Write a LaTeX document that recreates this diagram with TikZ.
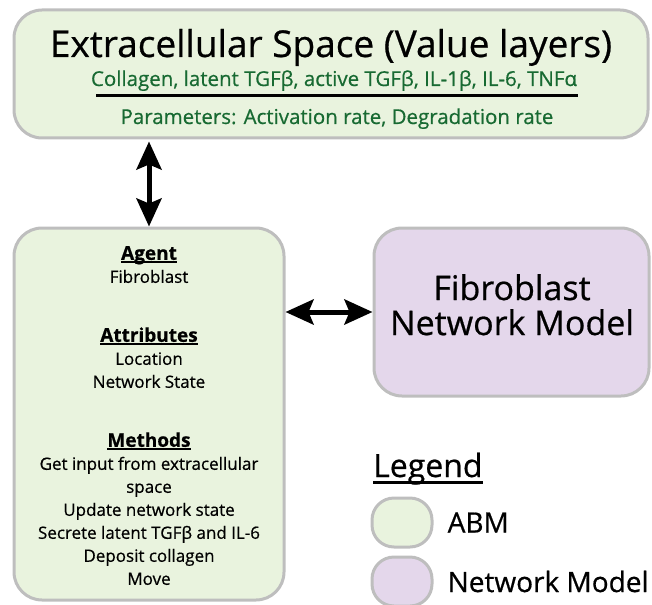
\documentclass[tikz,border=0pt]{standalone}
\usepackage{fontspec}
\setmainfont{Open Sans}[FakeBold=0.6]
\usetikzlibrary{arrows.meta,positioning}

\definecolor{abmgreen}{RGB}{233,243,222}
\definecolor{netpurple}{RGB}{228,215,235}
\definecolor{boxgray}{RGB}{190,190,190}
\definecolor{textgreen}{RGB}{24,106,50}

\newsavebox{\ulbox}
\newcommand{\uline}[3]{\sbox{\ulbox}{#3}\rlap{\usebox{\ulbox}}\rule[-#1]{\wd\ulbox}{#2}}
\newcommand{\ulhead}[1]{{\fontsize{19}{23}\selectfont\bfseries\uline{3pt}{1.5pt}{#1}}}

\begin{document}
\begin{tikzpicture}[
	x=1pt, y=-1pt,
	abmbox/.style={shape=rectangle, draw=boxgray, line width=3pt, fill=abmgreen, rounded corners=28pt, inner sep=0pt},
	netbox/.style={abmbox, fill=netpurple},
	keybox/.style={abmbox, rounded corners=22pt, minimum width=60pt, minimum height=49pt},
	twoway/.style={line width=5pt, {Stealth[length=28pt,width=25pt,inset=5pt]}-{Stealth[length=28pt,width=25pt,inset=5pt]}},
]
\useasboundingbox (0,0) rectangle (652,604);
\clip (0,0) rectangle (652,604);

% boxes
\node[abmbox, minimum width=634pt, minimum height=128pt] (ecs) at (331,74) {};
\node[abmbox, minimum width=270pt, minimum height=372pt] (abm) at (149,414) {};
\node[netbox, minimum width=275pt, minimum height=168pt] (fnm) at (511.5,312) {};

% extracellular space
\node[anchor=base, font=\fontsize{37}{44}\selectfont] (title) at (331,57) {Extracellular Space (Value layers)};
\node[anchor=base, text=textgreen, font=\fontsize{20.5}{24}\selectfont] (layers) at (334,86) {Collagen, latent TGFβ, active TGFβ, IL-1β, IL-6, TNFα};
\draw[line width=3pt] (96,96) -- (578,96);
\node[anchor=base, text=textgreen, font=\fontsize{20.5}{24}\selectfont] (params) at (337,124) {Parameters: Activation rate, Degradation rate};

% agent
\node[anchor=north, inner sep=0pt, align=center, font=\fontsize{17}{23}\selectfont] (agent) at (149,246) {
	\ulhead{Agent}\\
	Fibroblast\\[36pt]
	\ulhead{Attributes}\\
	Location\\
	Network State\\[36pt]
	\ulhead{Methods}\\
	Get input from extracellular\\
	space\\
	Update network state\\
	Secrete latent TGFβ and IL-6\\
	Deposit collagen\\
	Move
};

% network model
\node[anchor=north, inner sep=0pt, align=center, font=\fontsize{34}{35}\selectfont] (fnmtext) at (512,274) {Fibroblast\\Network Model};

% connectors
\draw[twoway, shorten <=2pt] (abm.north |- ecs.south) -- (abm.north);
\draw[twoway] (abm.east |- fnm.west) -- (fnm.west);

% legend
\node[anchor=base west, inner sep=0pt, font=\fontsize{32}{38}\selectfont] (legend) at (373,477) {\uline{7pt}{3pt}{Legend}};
\node[keybox] (abmkey) at (402,522.5) {};
\node[keybox, fill=netpurple] (netkey) at (402,581.5) {};
\node[right=14pt of abmkey, inner sep=0pt, font=\fontsize{28}{34}\selectfont] (abmlabel) {ABM};
\node[right=14pt of netkey, inner sep=0pt, font=\fontsize{28}{34}\selectfont] (netlabel) {Network Model};
\end{tikzpicture}
\end{document}
